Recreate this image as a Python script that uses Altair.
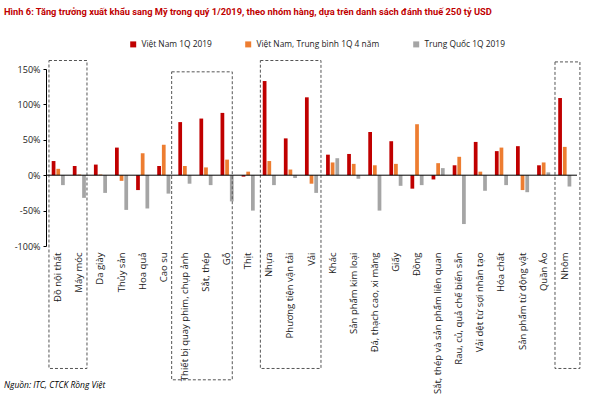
import altair as alt
import pandas as pd

categories = [
    "Đồ nội thất", "Máy móc", "Da giày", "Thủy sản", "Hoa quả", "Cao su",
    "Thiết bị quay phim, chụp ảnh", "Sắt, thép", "Gỗ", "Thịt", "Nhựa",
    "Phương tiện vận tải", "Vải", "Khác", "Sản phẩm kim loại",
    "Đá, thạch cao, xi măng", "Giấy", "Đồng", "Sắt, thép và sản phẩm liên quan",
    "Rau, củ, quả chế biến sẵn", "Vải dệt từ sợi nhân tạo", "Hóa chất",
    "Sản phẩm từ động vật", "Quần Áo", "Nhôm",
]
series_names = ["Việt Nam 1Q 2019", "Việt Nam, Trung bình 1Q 4 năm", "Trung Quốc 1Q 2019"]
vn_1q2019 = [20, 13, 15, 39, -21, 13, 75, 80, 88, -2, 133, 52, 110, 29, 30, 61, 48, -19, -6, 14, 47, 34, 41, 14, 109]
vn_avg4y = [9, 1, 1, -8, 31, 43, 13, 11, 22, 5, 20, 8, -12, 18, 16, 14, 16, 72, 17, 26, 5, 39, -21, 18, 40]
cn_1q2019 = [-14, -32, -25, -49, -47, -26, -12, -14, -37, -50, -14, -4, -25, 24, -5, -50, -15, -14, 10, -69, -22, -14, -24, 4, -16]
colors = ["#C00000", "#ED7D31", "#A5A5A5"]
y_ticks = [-100, -50, 0, 50, 100, 150]

# highlighted groups (in category-step units from the left edge, and % units)
box_x1 = [0.14, 5.95, 10.15, 24.1]
box_x2 = [1.94, 8.82, 13.02, 25.28]
box_top = [162, 146, 162, 160]
box_bottom = [-273, -289, -273, -273]

title_text = "Hình 6: Tăng trưởng xuất khẩu sang Mỹ trong quý 1/2019, theo nhóm hàng, dựa trên danh sách đánh thuế 250 tỷ USD"
source_text = "Nguồn: ITC, CTCK Rồng Việt"

rows = []
for i, c in enumerate(categories):
    for s, vals in zip(series_names, [vn_1q2019, vn_avg4y, cn_1q2019]):
        rows.append({"cat": c, "series": s, "value": vals[i]})
df = pd.DataFrame(rows)
boxes = pd.DataFrame({"x1": box_x1, "x2": box_x2, "y1": box_top, "y2": box_bottom})

W, H = 531, 177
FONT = "Open Sans"
NARROW = "Liberation Sans Narrow, Roboto"
yscale = alt.Scale(domain=[-100, 150], nice=False, zero=False)
yaxis = alt.Axis(values=y_ticks, labelExpr="datum.value + '%'", grid=False,
                 labelOverlap=False, domainColor="#000", tickColor="#000", tickSize=3,
                 labelPadding=3, labelFont=FONT, labelFontSize=9, labelColor="#222")

bars = alt.Chart(df).mark_bar().encode(
    x=alt.X("cat:N", sort=categories, title=None,
            scale=alt.Scale(paddingInner=0.38, paddingOuter=0.27),
            axis=alt.Axis(labelAngle=-90, domain=False, ticks=False, labelPadding=6,
                          labelFont=FONT, labelFontSize=9.5, labelColor="#222", labelLimit=300)),
    xOffset=alt.XOffset("series:N", sort=series_names, scale=alt.Scale(paddingInner=0.2)),
    y=alt.Y("value:Q", scale=yscale, title=None, axis=yaxis),
    color=alt.Color("series:N", sort=series_names,
                    scale=alt.Scale(domain=series_names, range=colors),
                    legend=alt.Legend(title=None, orient="none", legendX=83, legendY=-29,
                                      direction="horizontal", columns=3, symbolType="square",
                                      symbolSize=36, labelFont=FONT, labelFontSize=8.4,
                                      labelColor="#222", columnPadding=32, padding=0,
                                      symbolStrokeWidth=0)),
)

zero = alt.Chart(pd.DataFrame({"y": [0]})).mark_rule(color="#000", strokeWidth=1).encode(
    y=alt.Y("y:Q", scale=yscale, title=None, axis=yaxis)
)

rects = alt.Chart(boxes).mark_rect(fillOpacity=0, stroke="#555", strokeWidth=1, strokeDash=[3, 2]).encode(
    x=alt.X("x1:Q", scale=alt.Scale(domain=[0, W / 21.12], nice=False, zero=False), axis=None),
    x2="x2:Q",
    y=alt.Y("y1:Q", scale=yscale, title=None, axis=yaxis),
    y2="y2:Q",
)

source = alt.Chart(pd.DataFrame({"t": [source_text]})).mark_text(
    align="left", baseline="middle", font=FONT, fontSize=8.5, fontStyle="italic", color="#000"
).encode(text="t:N", x=alt.value(-42), y=alt.value(316))

title = alt.Chart(pd.DataFrame({"t": [title_text]})).mark_text(
    align="left", baseline="middle", font=NARROW, fontSize=9.3, fontWeight="bold", color="#C00000"
).encode(text="t:N", x=alt.value(-42), y=alt.value(-57))

chart = alt.layer(bars, rects, zero, source, title).resolve_scale(x="independent").properties(
    width=W, height=H,
    autosize=alt.AutoSizeParams(type="none"),
    padding={"left": 46, "top": 69, "right": 23, "bottom": 166},
).configure_view(stroke=None)

chart.save("out.html", embed_options={"renderer": "svg", "actions": False})
